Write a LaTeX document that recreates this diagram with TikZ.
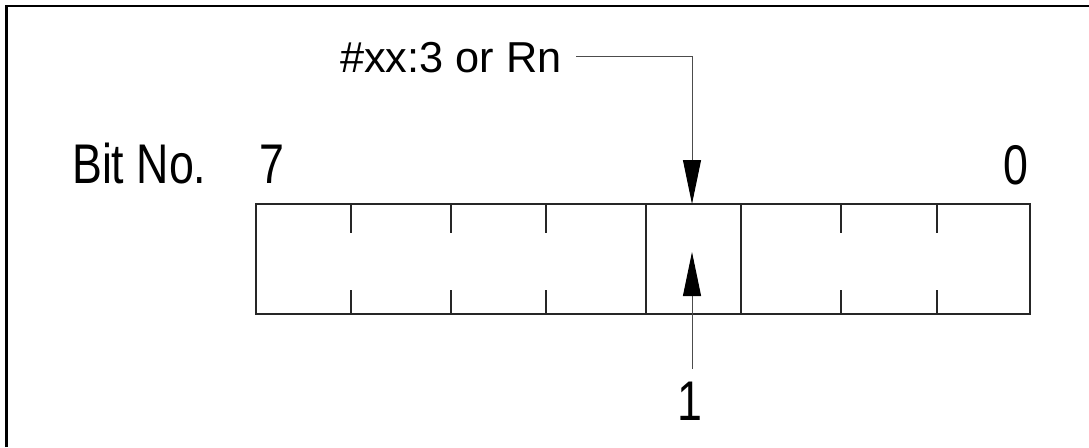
\documentclass[tikz,border=0pt]{standalone}
\usepackage{fontspec}
\setmainfont{Liberation Sans}
\newfontfamily\narrowfont{Liberation Sans}[FakeStretch=0.8]
\usetikzlibrary{arrows.meta}
\begin{document}
\begin{tikzpicture}[x=1pt,y=-1pt,
  frameline/.style={line width=2.2pt,black},
  boxline/.style={line width=1.1pt,black!85},
  lead/.style={line width=1pt,black!70},
  bighead/.style={-{Triangle[length=44pt,width=18pt,color=black]}},
  biglbl/.style={font=\narrowfont\fontsize{55.9}{60}\selectfont,inner sep=0pt,anchor=base west},
  toplbl/.style={font=\fontsize{43.3}{48}\selectfont,inner sep=0pt,anchor=base west}]
\useasboundingbox (0,0) rectangle (1089,447);
% partial frame (top and left edges)
\draw[frameline] (6.5,447) -- (6.5,6) -- (1089,6);
% register box
\node[boxline,draw,minimum width=774pt,minimum height=110pt,inner sep=0pt] (reg) at (643,259) {};
\foreach \x in {351,451,546,841,937}{
  \draw[boxline] (\x,204) -- (\x,233);
  \draw[boxline] (\x,290) -- (\x,314);
}
\draw[boxline] (646,204) -- (646,314);
\draw[boxline] (741,204) -- (741,314);
% labels
\node[biglbl] (bitno) at (72,183) {Bit No.};
\node[biglbl] (b7) at (259,183) {7};
\node[biglbl] (b0) at (1003,184) {0};
\node[biglbl] (one) at (677,420) {1};
\node[toplbl] (src) at (340,72.7) {\#xx:3 or Rn};
% arrows
\coordinate (srcend) at (576,56.7);
\coordinate (tipA) at (692,204);
\coordinate (tipB) at (692,252);
\coordinate (oneend) at (692,369);
\draw[lead,bighead] (srcend) -| (tipA);
\draw[lead,bighead] (oneend) -- (tipB);
\end{tikzpicture}
\end{document}
